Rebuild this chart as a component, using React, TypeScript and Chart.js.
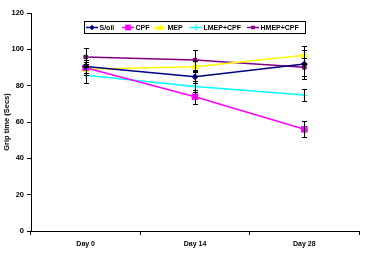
import React, { useEffect, useRef } from "react";
import { Chart, registerables } from "chart.js";

Chart.register(...registerables);

const categories = ["Day 0", "Day 14", "Day 28"];
const seriesNames = ["S/oil", "CPF", "MEP", "LMEP+CPF", "HMEP+CPF"];
const soil = [90.6, 84.9, 91.9];
const cpf = [89.9, 73.9, 56];
const mep = [89, 90.4, 96.7];
const lmep = [85.7, 79.6, 74.8];
const hmep = [95.8, 94.1, 90.1];
const soilErr = [3.5, 3.5, 8];
const cpfErr = [3, 3.8, 4.4];
const mepErr = [3, 3, 5];
const lmepErr = [4.5, 3, 3.5];
const hmepErr = [5, 5.8, 5];
const yTicks = [0, 20, 40, 60, 80, 100, 120];

const colors = ["#000080", "#FF00FF", "#FFFF00", "#00FFFF", "#800080"];
const styles: any[] = ["rectRot", "rect", "triangle", "cross", "rect"];
const radii = [3, 4, 4, 3.5, 2.5];
const legendX = [86, 122, 154, 190, 247];

const errorBars = {
  id: "errorBars",
  afterDatasetsDraw(chart: any) {
    const ctx = chart.ctx;
    const y = chart.scales.y;
    ctx.save();
    ctx.strokeStyle = "#000";
    ctx.lineWidth = 1;
    chart.data.datasets.forEach((ds: any, di: number) => {
      const meta = chart.getDatasetMeta(di);
      ds.data.forEach((v: number, i: number) => {
        const e = ds.err[i];
        const px = Math.round(meta.data[i].x) + 0.5;
        const t = Math.round(y.getPixelForValue(v + e)) + 0.5;
        const b = Math.round(y.getPixelForValue(v - e)) + 0.5;
        ctx.beginPath();
        ctx.moveTo(px, t);
        ctx.lineTo(px, b);
        ctx.moveTo(px - 2.5, t);
        ctx.lineTo(px + 2.5, t);
        ctx.moveTo(px - 2.5, b);
        ctx.lineTo(px + 2.5, b);
        ctx.stroke();
      });
    });
    ctx.restore();
  },
};

const legendBox = {
  id: "legendBox",
  afterDraw(chart: any) {
    const ctx = chart.ctx;
    ctx.save();
    const x0 = 84.5, y0 = 21.5, w = 221, h = 12;
    ctx.fillStyle = "#fff";
    ctx.fillRect(x0, y0, w, h);
    ctx.strokeStyle = "#000";
    ctx.lineWidth = 1;
    ctx.strokeRect(x0, y0, w, h);
    ctx.font = "bold 7px 'Liberation Sans', Arial, sans-serif";
    ctx.textBaseline = "middle";
    const cy = 27.5;
    seriesNames.forEach((name, i) => {
      const x = legendX[i];
      ctx.strokeStyle = colors[i];
      ctx.lineWidth = 1.5;
      ctx.beginPath();
      ctx.moveTo(x, cy);
      ctx.lineTo(x + 12, cy);
      ctx.stroke();
      const st = styles[i];
      ctx.fillStyle = colors[i];
      ctx.strokeStyle = colors[i];
      ctx.lineWidth = 1;
      const mx = x + 6;
      const r = radii[i] * 0.9;
      ctx.beginPath();
      if (st === "rectRot") {
        ctx.moveTo(mx, cy - r); ctx.lineTo(mx + r, cy); ctx.lineTo(mx, cy + r); ctx.lineTo(mx - r, cy); ctx.closePath(); ctx.fill();
      } else if (st === "rect") {
        ctx.fillRect(mx - r * 0.8, cy - r * 0.8, r * 1.6, r * 1.6);
      } else if (st === "triangle") {
        ctx.moveTo(mx, cy - r); ctx.lineTo(mx + r, cy + r * 0.7); ctx.lineTo(mx - r, cy + r * 0.7); ctx.closePath(); ctx.fill();
      } else {
        ctx.moveTo(mx, cy - r); ctx.lineTo(mx, cy + r); ctx.moveTo(mx - r, cy); ctx.lineTo(mx + r, cy); ctx.stroke();
      }
      ctx.fillStyle = "#000";
      ctx.fillText(name, x + 13.5, cy + 0.5);
    });
    ctx.restore();
  },
};

export default function App() {
  const ref = useRef<HTMLCanvasElement>(null);
  useEffect(() => {
    const data = [soil, cpf, mep, lmep, hmep];
    const errs = [soilErr, cpfErr, mepErr, lmepErr, hmepErr];
    const font = { family: "'Liberation Sans', Arial, sans-serif", size: 7, weight: "bold" as const };
    const chart = new Chart(ref.current!, {
      type: "line",
      data: {
        labels: categories,
        datasets: data.map((d, i) => ({
          label: seriesNames[i],
          data: d,
          err: errs[i],
          borderColor: colors[i],
          backgroundColor: colors[i],
          borderWidth: 1.5,
          pointStyle: styles[i],
          pointRadius: radii[i],
          pointBorderWidth: 1,
          pointBorderColor: colors[i],
          pointBackgroundColor: colors[i],
          tension: 0,
        })) as any,
      },
      options: {
        animation: false,
        responsive: false,
        events: [],
        layout: { padding: { top: 13, right: 6, left: 0, bottom: 0 } },
        plugins: { legend: { display: false }, tooltip: { enabled: false } },
        scales: {
          x: {
            offset: true,
            grid: { offset: true, drawOnChartArea: false, color: "#000", tickLength: 4, tickColor: "#000" },
            border: { color: "#000", width: 1 },
            ticks: { color: "#000", font, padding: 5 },
            afterFit: (s: any) => { s.height = 22; },
          },
          y: {
            min: 0,
            max: 120,
            afterBuildTicks: (s: any) => { s.ticks = yTicks.map((v) => ({ value: v })); },
            grid: { drawOnChartArea: false, color: "#000", tickLength: 4, tickColor: "#000" },
            border: { color: "#000", width: 1 },
            ticks: { color: "#000", font: { ...font, size: 7.5 }, padding: 3 },
            title: { display: true, text: "Grip time (Secs)", color: "#000", font: { ...font, size: 7.5 }, padding: { top: 2, bottom: 2 } },
            afterFit: (s: any) => { s.width = 31; },
          },
        },
      },
      plugins: [errorBars, legendBox],
    });
    return () => chart.destroy();
  }, []);
  return (
    <div style={{ position: "fixed", left: 0, top: 0, width: 365, height: 253, background: "#fff" }}>
      <canvas ref={ref} width={365} height={253} style={{ width: 365, height: 253 }} />
    </div>
  );
}
